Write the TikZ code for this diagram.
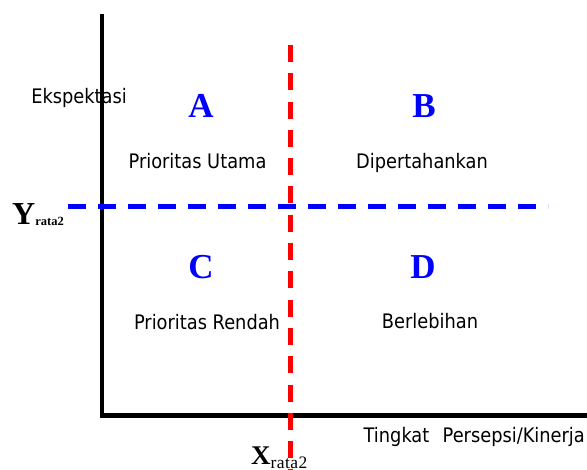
\documentclass[tikz,border=0pt]{standalone}
\usepackage{fontspec}
\setmainfont{Liberation Serif}
\newfontfamily\tah[FakeStretch=0.89]{DejaVu Sans}
\tikzset{
  lbl/.style={inner sep=0pt, anchor=base, font=\tah\fontsize{20}{20}\selectfont},
  quad/.style={inner sep=0pt, anchor=base, text=blue, font=\fontsize{35}{35}\selectfont\bfseries},
  axis/.style={line width=4.5pt, black, miter limit=10},
  meanx/.style={line width=5pt, red, dash pattern=on 17pt off 11.3pt},
  meany/.style={line width=5pt, blue, dash pattern=on 18.3pt off 11.7pt}
}
\begin{document}
\begin{tikzpicture}[x=1pt,y=-1pt]
\useasboundingbox (0,0) rectangle (587,470);
% axes
\coordinate (top) at (102,14);
\coordinate (orig) at (102,415.5);
\coordinate (right) at (587,415.5);
\draw[axis] (top) -- (orig) -- (right);
% mean lines
\coordinate (yl) at (68,207);
\coordinate (yr) at (548,207);
\coordinate (xt) at (290.5,45);
\coordinate (xb) at (290.5,470);
\draw[meany] (yl) -- (yr);
\draw[meanx] (xt) -- (xb);
% labels
\node[lbl] (eksp) at (79,104) {Ekspektasi};
\node[lbl, anchor=base east] (ting) at (585,443) {Tingkat\ \hspace{2pt}\ Persepsi/Kinerja};
\node[quad] (A) at (201,118) {A};
\node[quad] (B) at (424,118) {B};
\node[quad] (C) at (201,279) {C};
\node[quad] (D) at (423,279) {D};
\node[lbl] (pu) at (197.5,169) {Prioritas Utama};
\node[lbl] (dp) at (422,169) {Dipertahankan};
\node[lbl] (pr) at (207,329.5) {Prioritas Rendah};
\node[lbl] (bl) at (430,329) {Berlebihan};
\node[inner sep=0pt, anchor=base west] (ymean) at (12,225)
  {\fontsize{32}{32}\selectfont\bfseries Y\raisebox{-1pt}{\fontsize{12.5}{12.5}\selectfont rata2}};
\node[inner sep=0pt, anchor=base west] (xmean) at (251,464.5)
  {\fontsize{27}{27}\selectfont\bfseries X\raisebox{-4pt}{\fontsize{17.5}{17.5}\selectfont\mdseries r\kern0.4pt a\kern0.4pt t\kern0.4pt a\kern0.4pt 2}};
\end{tikzpicture}
\end{document}
